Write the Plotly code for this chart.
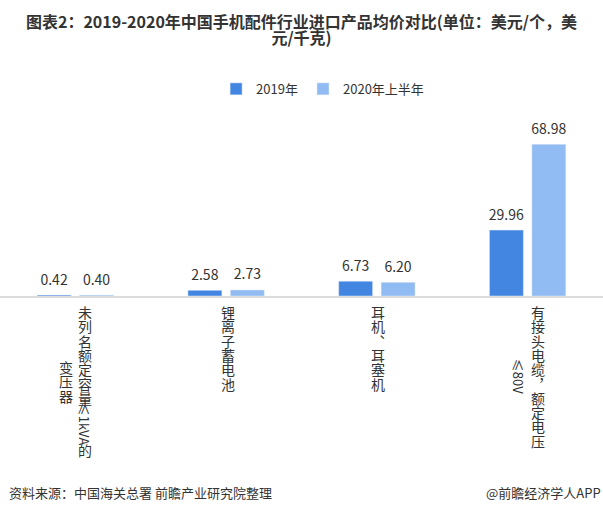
import plotly.graph_objects as go

categories = ["未列名额定容量≤1kVA的变压器", "锂离子蓄电池", "耳机、耳塞机", "有接头电缆，额定电压≤80V"]
# how each label is broken into vertical columns (right-hand column first)
label_columns = [
    [["未列名额定容量", "≤1kVA", "的"], ["变压器"]],
    [["锂离子蓄电池"]],
    [["耳机、耳塞机"]],
    [["有接头电缆，额定电压"], ["≤80V"]],
]
series_names = ["2019年", "2020年上半年"]
price_2019 = [0.42, 2.58, 6.73, 29.96]
price_2020h1 = [0.40, 2.73, 6.20, 68.98]
colors = ["#4286e2", "#90bbf3"]

FONT = "Microsoft YaHei, Noto Sans CJK SC, sans-serif"
TEXT = "#333333"

fig = go.Figure()
for name, vals, col in zip(series_names, [price_2019, price_2020h1], colors):
    # small empty second line lifts the value a few px off the bar
    labels = [f'<span style="font-size:14px">{v:.2f}</span><br>\u00a0' for v in vals]
    fig.add_trace(go.Bar(
        x=categories, y=vals, name=name, marker_color=col,
        text=labels, textposition="outside",
        textfont=dict(size=5, color=TEXT, family=FONT),
        constraintext="none", cliponaxis=False,
    ))

# vertical category labels
PITCH = 14.3   # px per upright CJK char
LATIN = 7.6    # px per rotated latin char
VERTICAL_PUNCT = {"、": "\ufe11", "，": "\ufe10"}


def is_latin(seg):
    return all(ord(c) < 0x3000 for c in seg)


def seg_len(seg):
    return len(seg) * (LATIN if is_latin(seg) else PITCH)


annotations = []
for cat, cols in zip(categories, label_columns):
    offsets = [10, -9] if len(cols) == 2 else [1.5]
    mid = 9 + sum(seg_len(s) for s in cols[0]) / 2
    for col, dx in zip(cols, offsets):
        y0 = mid - sum(seg_len(s) for s in col) / 2
        for seg in col:
            L = seg_len(seg)
            if is_latin(seg):
                text, angle, size = seg, 90, 13
            else:
                text = "<br>".join(f'<span style="font-size:14px">{VERTICAL_PUNCT.get(c, c)}</span>'
                                   for c in seg)
                angle, size = 0, 11
            annotations.append(dict(
                x=cat, xref="x", y=0, yref="paper", xshift=dx, yshift=-(y0 + L / 2),
                text=text, textangle=angle, showarrow=False,
                xanchor="center", yanchor="middle", borderpad=0,
                font=dict(size=size, color=TEXT, family=FONT),
            ))
            y0 += L

# source lines
annotations.append(dict(x=0, xref="paper", y=0, yref="paper", xshift=7, yshift=-196,
                        text="资料来源：中国海关总署 前瞻产业研究院整理", showarrow=False,
                        xanchor="left", yanchor="middle", font=dict(size=13, color=TEXT, family=FONT)))
annotations.append(dict(x=1, xref="paper", y=0, yref="paper", yshift=-196,
                        text="@前瞻经济学人APP", showarrow=False,
                        xanchor="right", yanchor="middle", font=dict(size=13, color=TEXT, family=FONT)))

title_lines = ["图表2：2019-2020年中国手机配件行业进口产品均价对比(单位：美元/个，美", "元/千克)"]
title_text = "<br>".join(f'<span style="font-size:16px"><b>{t}</b></span>' for t in title_lines)

fig.update_layout(
    width=603, height=511,
    margin=dict(l=0, r=0, t=120, b=215),
    paper_bgcolor="white", plot_bgcolor="white",
    font=dict(family=FONT, color=TEXT),
    title=dict(text=title_text, font=dict(size=13, color=TEXT, family=FONT),
               x=0.5, xanchor="center", yref="container", y=0.946, yanchor="top"),
    legend=dict(orientation="h", x=0.535, xanchor="center", yref="container",
                y=0.826, yanchor="middle", font=dict(size=13, color=TEXT, family=FONT),
                itemwidth=30),
    bargap=0.437, bargroupgap=0.2,
    xaxis=dict(showticklabels=False, showline=True, linecolor="#dcdcdc", linewidth=1.5,
               ticks="", showgrid=False, range=[-0.5, 3.5]),
    yaxis=dict(visible=False, range=[0, 80]),
    annotations=annotations,
)

# the page's default body margin would push the 603px figure off the window
fig.write_html("out.html", config={"displayModeBar": False},
               post_script="document.body.style.margin='0';")
